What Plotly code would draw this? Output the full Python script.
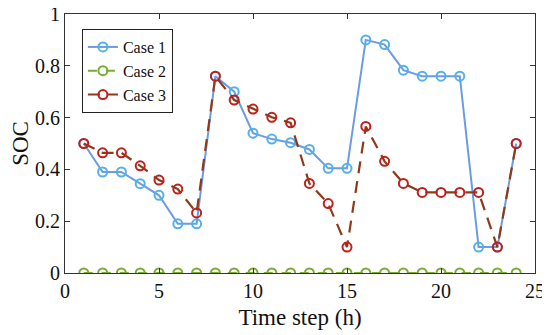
import plotly.graph_objects as go

time_steps = list(range(1, 25))
case1 = [0.50, 0.39, 0.39, 0.345, 0.30, 0.19, 0.19, 0.76, 0.70, 0.54, 0.517, 0.503,
         0.477, 0.404, 0.404, 0.90, 0.882, 0.783, 0.76, 0.76, 0.76, 0.10, 0.10, 0.50]
case2 = [0.0] * 24
case3 = [0.50, 0.464, 0.464, 0.414, 0.359, 0.324, 0.232, 0.76, 0.668, 0.633, 0.601, 0.58,
         0.346, 0.268, 0.10, 0.566, 0.431, 0.346, 0.311, 0.311, 0.311, 0.311, 0.10, 0.50]

x_ticks = [0, 5, 10, 15, 20, 25]
y_ticks = [0, 0.2, 0.4, 0.6, 0.8, 1]

font_family = "Liberation Serif"

fig = go.Figure()
fig.add_trace(go.Scatter(
    x=time_steps, y=case1, name="Case 1", mode="lines+markers",
    line=dict(color="#6A9BE3", width=2),
    marker=dict(symbol="circle-open", size=9, color="#55B0EA", line=dict(width=2, color="#55B0EA")),
))
fig.add_trace(go.Scatter(
    x=time_steps, y=case2, name="Case 2", mode="lines+markers",
    line=dict(color="#77AC30", width=2, dash="dash"),
    marker=dict(symbol="circle-open", size=9, color="#77AC30", line=dict(width=2, color="#77AC30")),
))
fig.add_trace(go.Scatter(
    x=time_steps, y=case3, name="Case 3", mode="lines+markers",
    line=dict(color="#8E3A1A", width=2.2, dash="12px,8px"),
    marker=dict(symbol="circle-open", size=9, color="#C0201A", line=dict(width=2, color="#C0201A")),
))

axis_common = dict(
    showgrid=False, zeroline=False, showline=True, linecolor="#333333", linewidth=1,
    mirror="ticks", ticks="inside", ticklen=5, tickcolor="#333333", automargin=False,
    ticklabeloverflow="allow",
    tickfont=dict(family=font_family, size=20, color="#111111"),
)

# page body adds an 8px offset; margins compensate so the plot area lands at 65..535 x 14..273
fig.update_layout(
    width=550, height=335,
    margin=dict(l=57, r=23, t=6, b=70),
    paper_bgcolor="white", plot_bgcolor="white",
    font=dict(family=font_family, color="#111111"),
    xaxis=dict(range=[0, 25], tickvals=x_ticks,
               title=dict(text="Time step (h)", font=dict(family=font_family, size=23), standoff=7),
               **axis_common),
    yaxis=dict(range=[0, 1], tickvals=y_ticks, ticktext=["0", "0.2", "0.4", "0.6", "0.8", "1"],
               title=dict(text="SOC", font=dict(family=font_family, size=23), standoff=2),
               **axis_common),
    legend=dict(x=0.036, y=0.942, xanchor="left", yanchor="top",
                bordercolor="#222222", borderwidth=1, bgcolor="white",
                font=dict(family=font_family, size=16), itemwidth=30,
                tracegroupgap=0),
    showlegend=True,
)

fig.write_html("out.html")
